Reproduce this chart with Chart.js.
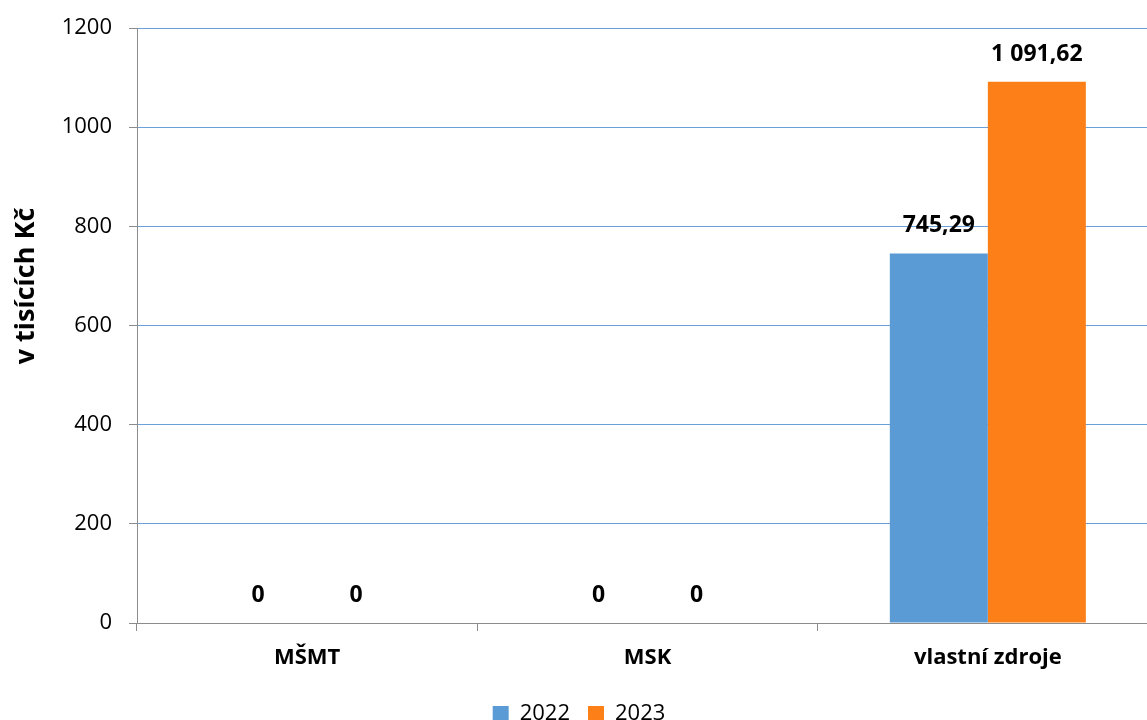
<!DOCTYPE html>
<html>
<head>
<meta charset="utf-8">
<script src="https://cdn.jsdelivr.net/npm/chart.js@4.4.1/dist/chart.umd.min.js"></script>
<style>
  html, body { margin: 0; padding: 0; background: #fff; overflow: hidden; }
  #wrap { width: 1160px; height: 735px; }
</style>
</head>
<body>
<div id="wrap"><canvas id="graf" width="1160" height="735"></canvas></div>
<script>
// data z grafu
const kategorie = ["MŠMT", "MSK", "vlastní zdroje"];
const hodnoty2022 = [0, 0, 745.29];
const hodnoty2023 = [0, 0, 1091.62];
const ticksY = [0, 200, 400, 600, 800, 1000, 1200];

const fontRodina = "'Open Sans', 'Liberation Sans', sans-serif";

// formát 1 091,62
function formatCz(v) {
  if (v === 0) return "0";
  const [cele, des] = v.toFixed(2).split(".");
  return cele.replace(/\B(?=(\d{3})+(?!\d))/g, " ") + "," + des;
}

// popisky hodnot nad sloupci
const popiskyPlugin = {
  id: "popisky",
  afterDatasetsDraw(chart) {
    const ctx = chart.ctx;
    ctx.save();
    ctx.font = "bold 23px " + fontRodina;
    ctx.fillStyle = "#000";
    ctx.textAlign = "center";
    ctx.textBaseline = "alphabetic";
    chart.data.datasets.forEach((ds, i) => {
      chart.getDatasetMeta(i).data.forEach((bar, j) => {
        ctx.fillText(formatCz(ds.data[j]), bar.x, bar.y - 21);
      });
    });
    ctx.restore();
  },
};

// titulek osy Y (v originále není na středu osy)
const titulekYPlugin = {
  id: "titulekY",
  afterDraw(chart) {
    const ctx = chart.ctx;
    ctx.save();
    ctx.translate(26, 286);
    ctx.rotate(-Math.PI / 2);
    ctx.font = "bold 27px " + fontRodina;
    ctx.fillStyle = "#000";
    ctx.textAlign = "center";
    ctx.textBaseline = "middle";
    ctx.fillText("v tisících Kč", 0, 0);
    ctx.restore();
  },
};

new Chart(document.getElementById("graf"), {
  type: "bar",
  data: {
    labels: kategorie,
    datasets: [
      { label: "2022", data: hodnoty2022, backgroundColor: "#5b9bd5" },
      { label: "2023", data: hodnoty2023, backgroundColor: "#fc7f17" },
    ],
  },
  options: {
    responsive: false,
    animation: false,
    categoryPercentage: 0.576,
    barPercentage: 1,
    layout: { padding: { top: 27, right: 2, left: 0, bottom: 0 } },
    plugins: {
      legend: {
        position: "bottom",
        labels: {
          font: { family: fontRodina, size: 22 },
          color: "#000",
          boxWidth: 16,
          boxHeight: 16,
          padding: 18,
        },
      },
      tooltip: { enabled: false },
    },
    scales: {
      x: {
        grid: {
          drawOnChartArea: false,
          drawTicks: true,
          tickLength: 8,
          tickColor: "#8c8c8c",
          offset: true,
        },
        border: { color: "#8c8c8c", width: 1 },
        ticks: {
          font: { family: fontRodina, size: 22, weight: "bold" },
          color: "#000",
          padding: 14,
        },
        afterFit(scale) { scale.height = 62; },
      },
      y: {
        min: 0,
        max: 1200,
        afterBuildTicks(scale) { scale.ticks = ticksY.map((v) => ({ value: v })); },
        grid: {
          color: "#6a9fd8",
          tickColor: "#8c8c8c",
          tickLength: 8,
        },
        border: { color: "#8c8c8c", width: 1 },
        ticks: {
          font: { family: fontRodina, size: 22, lineHeight: 1 },
          color: "#000",
          padding: 17,
          callback: (v) => String(v),
        },
        afterFit(scale) { scale.width = 137; },
      },
    },
  },
  plugins: [popiskyPlugin, titulekYPlugin],
});
</script>
</body>
</html>
